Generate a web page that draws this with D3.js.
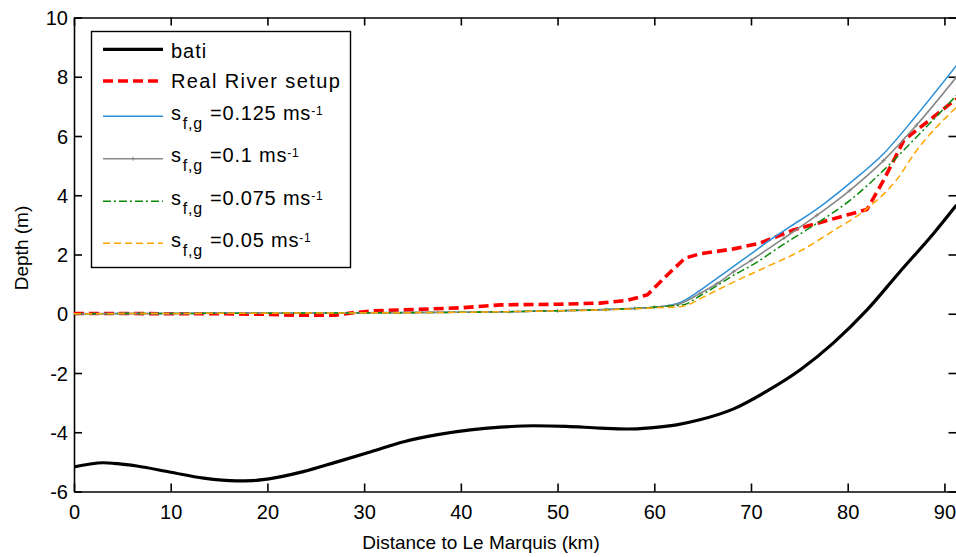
<!DOCTYPE html>
<html><head><meta charset="utf-8">
<script src="https://cdn.jsdelivr.net/npm/d3@7"></script>
<style>
html,body{margin:0;padding:0;background:#fff;}
svg{display:block;font-family:"Liberation Sans",Arial,sans-serif;}
</style></head>
<body><svg id="c" width="956" height="557"></svg>
<script>
// ---- data (x = km, y = m) ----
const bati = [[0,-5.17],[1.5,-5.08],[3,-5.03],[4.5,-5.06],[6.5,-5.14],[10,-5.35],[13.4,-5.55],[16.8,-5.64],[18.5,-5.63],[20,-5.58],[23.7,-5.33],[27.2,-5.0],[30.7,-4.66],[34.1,-4.32],[37.6,-4.08],[41,-3.92],[44.1,-3.83],[47.5,-3.78],[50.9,-3.8],[54.4,-3.86],[57.2,-3.89],[59.6,-3.85],[62.3,-3.75],[64.7,-3.58],[68.2,-3.21],[71.6,-2.62],[75.1,-1.89],[78.5,-0.99],[82,0.13],[85.4,1.42],[88.9,2.72],[91.25,3.67]];
const realRiver = [[0,0.01],[5,0.01],[10,0.0],[15,0.0],[20,-0.02],[23,-0.05],[27,-0.05],[29,0.04],[31,0.1],[35,0.14],[40,0.2],[44.1,0.3],[50,0.32],[54.4,0.36],[57.2,0.45],[59.3,0.64],[60.3,0.97],[61.7,1.42],[63.2,1.88],[64.7,2.02],[68.2,2.19],[70.9,2.38],[74.4,2.83],[77.8,3.14],[80.3,3.37],[82,3.52],[83.7,4.5],[85.8,5.85],[87.1,6.19],[88.2,6.47],[90.6,7.09],[91.25,7.25]];
const sfg0125 = [[0,0],[10,0.01],[20,0.02],[30,0.03],[40,0.05],[45,0.07],[50,0.1],[55,0.14],[58,0.18],[60,0.22],[61.5,0.28],[62.5,0.36],[64.7,0.78],[66.5,1.2],[68.2,1.6],[70,2.02],[72,2.5],[74,2.93],[76.8,3.53],[80.2,4.4],[83.7,5.4],[87.1,6.69],[91.25,8.38]];
const sfg01 = [[0,0],[10,0.01],[20,0.02],[30,0.03],[40,0.05],[45,0.07],[50,0.1],[55,0.14],[58,0.18],[60,0.22],[61.5,0.27],[62.5,0.32],[64.7,0.68],[66.5,1.02],[68.2,1.42],[70,1.8],[73.4,2.55],[76.8,3.32],[80.2,4.16],[83.7,5.17],[87.1,6.36],[91.25,7.99]];
const sfg0075 = [[0,0],[10,0.01],[20,0.02],[30,0.03],[40,0.05],[45,0.07],[50,0.1],[55,0.14],[58,0.18],[60,0.22],[61.5,0.26],[63,0.3],[64.7,0.6],[66.5,0.95],[68.2,1.3],[70,1.62],[73.4,2.35],[76.8,3.05],[80.2,3.82],[83.7,4.84],[87.1,5.96],[91.25,7.37]];
const sfg005 = [[0,0],[10,0.01],[20,0.02],[30,0.03],[40,0.05],[45,0.07],[50,0.1],[55,0.13],[58,0.17],[60,0.2],[62.3,0.22],[63.5,0.3],[64.7,0.5],[68.2,1.07],[71.6,1.58],[75.1,2.12],[78.5,2.8],[82,3.55],[85,4.5],[87.1,5.5],[91.25,6.97]];
const xTicks = [0,10,20,30,40,50,60,70,80,90];
const yTicks = [-6,-4,-2,0,2,4,6,8,10];
const legendLabels = ["bati","Real River setup","=0.125 ms","=0.1 ms","=0.075 ms","=0.05 ms"];

// ---- layout ----
const L = 74, R = 956.5, T = 17.5, B = 491.5;
const x = d3.scaleLinear().domain([0,91.25]).range([L,R]);
const y = d3.scaleLinear().domain([-6,10]).range([B,T]);
const svg = d3.select("#c");
const FONT = 20;

// axes (ticks inward on all sides)
const tl = 8;
const axB = svg.append("g").attr("transform",`translate(0,${B})`)
  .call(d3.axisBottom(x).tickValues(xTicks).tickSize(-tl).tickPadding(12).tickSizeOuter(0));
const axT = svg.append("g").attr("transform",`translate(0,${T})`)
  .call(d3.axisTop(x).tickValues(xTicks).tickSize(-tl).tickFormat("").tickSizeOuter(0));
const axL = svg.append("g").attr("transform",`translate(${L},0)`)
  .call(d3.axisLeft(y).tickValues(yTicks).tickSize(-tl).tickPadding(14).tickSizeOuter(0));
const axR = svg.append("g").attr("transform",`translate(${R},0)`)
  .call(d3.axisRight(y).tickValues(yTicks).tickSize(-tl).tickFormat("").tickSizeOuter(0));
[axB,axT,axL,axR].forEach(a=>{
  a.select(".domain").attr("stroke","#000").attr("stroke-width",1.6);
  a.selectAll(".tick line").attr("stroke","#000").attr("stroke-width",1.6);
  a.selectAll("text").attr("font-size",FONT).attr("fill","#000")
   .attr("font-family","'Liberation Sans',Arial,sans-serif");
});
axL.selectAll("text").text(d=>d<0?"-"+Math.abs(d):d).attr("x",-6).attr("dy","0.36em");
axB.selectAll("text").attr("dy","0.72em").attr("y",13);

// clip
svg.append("clipPath").attr("id","clp").append("rect")
  .attr("x",L).attr("y",T).attr("width",R-L).attr("height",B-T);
const plot = svg.append("g").attr("clip-path","url(#clp)");

const lineC = d3.line().x(d=>x(d[0])).y(d=>y(d[1])).curve(d3.curveMonotoneX);
const lineL = d3.line().x(d=>x(d[0])).y(d=>y(d[1]));

const series = [
  {data:bati, gen:lineC, color:"#000", w:3.2, dash:null},
  {data:realRiver, gen:lineL, color:"#ff0000", w:3.6, dash:"10,5"},
  {data:sfg0125, gen:lineC, color:"#2b8fd9", w:1.5, dash:null},
  {data:sfg01, gen:lineC, color:"#888888", w:1.6, dash:null, marker:true},
  {data:sfg0075, gen:lineC, color:"#0a8a0a", w:1.5, dash:"8,3,2,3"},
  {data:sfg005, gen:lineC, color:"#ffa500", w:1.5, dash:"7,4"}
];
series.forEach(s=>{
  plot.append("path").datum(s.data).attr("d",s.gen).attr("fill","none")
    .attr("stroke",s.color).attr("stroke-width",s.w)
    .attr("stroke-dasharray",s.dash).attr("stroke-linejoin","round");
  if(s.marker){
    plot.selectAll(null).data(s.data.filter(d=>d[0]>40)).enter().append("path")
      .attr("d",d=>`M${x(d[0])-2},${y(d[1])}h4M${x(d[0])},${y(d[1])-2}v4`)
      .attr("stroke",s.color).attr("stroke-width",1);
  }
});

// axis labels
svg.append("text").attr("x",481).attr("y",549).attr("text-anchor","middle")
  .attr("font-size",19).text("Distance to Le Marquis (km)");
svg.append("text").attr("transform","translate(28,248) rotate(-90)").attr("text-anchor","middle")
  .attr("font-size",19).text("Depth (m)");

// legend
const lg = svg.append("g");
lg.append("rect").attr("x",91.5).attr("y",31.5).attr("width",259).attr("height",236)
  .attr("fill","#fff").attr("stroke","#000").attr("stroke-width",1.4);
const rowsY = [49.3,81,116.3,158.7,201.3,243.3];
series.forEach((s,i)=>{
  const yy = rowsY[i];
  lg.append("line").attr("x1",103).attr("x2",163).attr("y1",yy).attr("y2",yy)
    .attr("stroke",s.color).attr("stroke-width",s.w).attr("stroke-dasharray",s.dash);
  if(s.marker){
    lg.append("path").attr("d",`M131,${yy}h4M133,${yy-2}v4`).attr("stroke",s.color).attr("stroke-width",1);
  }
  if(i<2){
    lg.append("text").attr("x",171).attr("y",yy+(i===0?8.5:7.3)).attr("font-size",FONT)
      .attr("letter-spacing",i===0?"1px":"1.4px").text(legendLabels[i]);
  } else {
    const t = lg.append("text").attr("x",171).attr("y",yy+3.5).attr("font-size",FONT).attr("letter-spacing","0.8px");
    t.append("tspan").text("s");
    t.append("tspan").attr("font-size",16).attr("dy",9).attr("dx",1).text("f,g");
    t.append("tspan").attr("dy",-9).attr("dx",7).text(legendLabels[i]);
    t.append("tspan").attr("font-size",12).attr("dy",-5).text("-1");
  }
});
</script></body></html>
